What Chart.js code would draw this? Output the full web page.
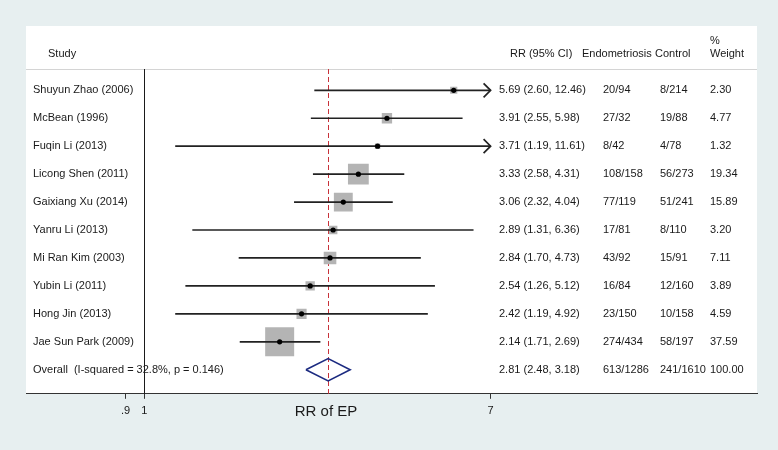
<!DOCTYPE html>
<html>
<head>
<meta charset="utf-8">
<title>RR of EP forest plot</title>
<script src="https://cdn.jsdelivr.net/npm/chart.js@4.4.1/dist/chart.umd.min.js"></script>
<style>
  html, body { margin: 0; padding: 0; background: #e7eff0; }
  #wrap { width: 778px; height: 450px; position: relative; }
</style>
</head>
<body>
<div id="wrap"><canvas id="forestChart" width="778" height="450"></canvas></div>
<script>
// Study rows (top to bottom)
const studies = [
  "Shuyun Zhao (2006)", "McBean (1996)", "Fuqin Li (2013)", "Licong Shen (2011)",
  "Gaixiang Xu (2014)", "Yanru Li (2013)", "Mi Ran Kim (2003)", "Yubin Li (2011)",
  "Hong Jin (2013)", "Jae Sun Park (2009)"
];
const rr = [5.69, 3.91, 3.71, 3.33, 3.06, 2.89, 2.84, 2.54, 2.42, 2.14];
const ciLow = [2.60, 2.55, 1.19, 2.58, 2.32, 1.31, 1.70, 1.26, 1.19, 1.71];
const ciHigh = [12.46, 5.98, 11.61, 4.31, 4.04, 6.36, 4.73, 5.12, 4.92, 2.69];
const endoCounts = ["20/94", "27/32", "8/42", "108/158", "77/119", "17/81", "43/92", "16/84", "23/150", "274/434"];
const controlCounts = ["8/214", "19/88", "4/78", "56/273", "51/241", "8/110", "15/91", "12/160", "10/158", "58/197"];
const weights = [2.30, 4.77, 1.32, 19.34, 15.89, 3.20, 7.11, 3.89, 4.59, 37.59];

// Pooled estimate
const overallLabel = "Overall  (I-squared = 32.8%, p = 0.146)";
const overallRR = 2.81;
const overallLow = 2.48;
const overallHigh = 3.18;
const overallEndo = "613/1286";
const overallControl = "241/1610";
const overallWeight = "100.00";

// x axis ticks
const tickValues = [0.9, 1, 7];
const tickLabels = [".9", "1", "7"];
const xTitle = "RR of EP";

const FONT = "'Liberation Sans', Arial, sans-serif";
const overallRow = studies.length;
const clipMax = tickValues[tickValues.length - 1];
const fmt = v => v.toFixed(2);

// CI segments, one dataset per study, cut at the last tick
const ciSets = studies.map((s, i) => ({
  type: 'line',
  data: [{ x: ciLow[i], y: i }, { x: Math.min(ciHigh[i], clipMax), y: i }],
  borderColor: '#222',
  borderWidth: 1.7,
  pointRadius: 0,
  fill: false,
  order: 2
}));

const forestPlugin = {
  id: 'forest',
  beforeDraw(chart) {
    // white plot panel, under the axis
    const { ctx, chartArea: a } = chart;
    ctx.save();
    ctx.fillStyle = '#ffffff';
    ctx.fillRect(a.left, a.top, a.right - a.left, a.bottom - a.top);
    ctx.restore();
  },
  beforeDatasetsDraw(chart) {
    const { ctx, chartArea: a, scales: { x } } = chart;
    const headY = a.top + 43;
    ctx.save();
    // header separator
    ctx.strokeStyle = '#d4d4d4';
    ctx.lineWidth = 1;
    ctx.beginPath();
    ctx.moveTo(a.left, headY + 0.5);
    ctx.lineTo(a.right, headY + 0.5);
    ctx.stroke();
    // no-effect line
    const x1 = Math.round(x.getPixelForValue(1)) + 0.5;
    ctx.strokeStyle = '#1a1a1a';
    ctx.beginPath();
    ctx.moveTo(x1, headY);
    ctx.lineTo(x1, a.bottom);
    ctx.stroke();
    // overall estimate line
    const xo = Math.round(x.getPixelForValue(overallRR)) + 0.5;
    ctx.strokeStyle = '#c8323a';
    ctx.setLineDash([5, 3]);
    ctx.beginPath();
    ctx.moveTo(xo, headY);
    ctx.lineTo(xo, a.bottom);
    ctx.stroke();
    ctx.restore();
  },
  afterDatasetsDraw(chart) {
    const { ctx, chartArea: a, scales: { x, y } } = chart;
    ctx.save();
    // arrows where the CI runs past the axis
    ctx.strokeStyle = '#222';
    ctx.lineWidth = 1.7;
    ciHigh.forEach((hi, i) => {
      if (hi <= clipMax) return;
      const px = x.getPixelForValue(clipMax);
      const py = y.getPixelForValue(i);
      ctx.beginPath();
      ctx.moveTo(px - 7, py - 7);
      ctx.lineTo(px, py);
      ctx.lineTo(px - 7, py + 7);
      ctx.stroke();
    });

    // header
    ctx.fillStyle = '#1a1a1a';
    ctx.font = '11px ' + FONT;
    ctx.textBaseline = 'middle';
    ctx.textAlign = 'left';
    const hy = a.top + 28;
    ctx.fillText("Study", 48, hy);
    ctx.fillText("RR (95% CI)", 510, hy);
    ctx.fillText("Endometriosis", 582, hy);
    ctx.fillText("Control", 655, hy);
    ctx.fillText("%", 710, hy - 13);
    ctx.fillText("Weight", 710, hy);

    // rows
    const colRR = 499, colEndo = 603, colCtrl = 660, colW = 710;
    studies.forEach((s, i) => {
      const py = y.getPixelForValue(i);
      ctx.fillText(s, 33, py);
      ctx.fillText(`${fmt(rr[i])} (${fmt(ciLow[i])}, ${fmt(ciHigh[i])})`, colRR, py);
      ctx.fillText(endoCounts[i], colEndo, py);
      ctx.fillText(controlCounts[i], colCtrl, py);
      ctx.fillText(fmt(weights[i]), colW, py);
    });
    const oy = y.getPixelForValue(overallRow);
    ctx.fillText(overallLabel, 33, oy);
    ctx.fillText(`${fmt(overallRR)} (${fmt(overallLow)}, ${fmt(overallHigh)})`, colRR, oy);
    ctx.fillText(overallEndo, colEndo, oy);
    ctx.fillText(overallControl, colCtrl, oy);
    ctx.fillText(overallWeight, colW, oy);

    // axis title
    ctx.font = '15px ' + FONT;
    ctx.textAlign = 'center';
    ctx.fillText(xTitle, 326, a.bottom + 18);
    ctx.restore();
  }
};

const ctx = document.getElementById("forestChart").getContext("2d");
new Chart(ctx, {
  type: 'scatter',
  plugins: [forestPlugin],
  data: {
    datasets: [
      {
        // study weight boxes
        data: rr.map((v, i) => ({ x: v, y: i })),
        pointStyle: 'rect',
        pointRadius: weights.map(w => 4.73 * Math.sqrt(w) / Math.SQRT2),
        pointHoverRadius: weights.map(w => 4.73 * Math.sqrt(w) / Math.SQRT2),
        backgroundColor: '#b4b4b4',
        borderWidth: 0,
        order: 3
      },
      ...ciSets,
      {
        // point estimates
        data: rr.map((v, i) => ({ x: v, y: i })),
        pointStyle: 'circle',
        pointRadius: 2.6,
        backgroundColor: '#000',
        borderWidth: 0,
        order: 1
      },
      {
        // pooled diamond
        type: 'line',
        data: [
          { x: overallLow, y: overallRow },
          { x: overallRR, y: overallRow - 0.4 },
          { x: overallHigh, y: overallRow },
          { x: overallRR, y: overallRow + 0.4 },
          { x: overallLow, y: overallRow }
        ],
        borderColor: '#1b2a80',
        borderWidth: 1.6,
        pointRadius: 0,
        fill: false,
        tension: 0,
        order: 1
      }
    ]
  },
  options: {
    responsive: false,
    animation: false,
    devicePixelRatio: 1,
    layout: { padding: { left: 26, right: 21, top: 26, bottom: 26 } },
    plugins: { legend: { display: false }, tooltip: { enabled: false } },
    scales: {
      x: {
        type: 'logarithmic',
        min: 0.5146,
        max: 31.27,
        afterBuildTicks: axis => { axis.ticks = tickValues.map(v => ({ value: v })); },
        ticks: {
          autoSkip: false,
          maxRotation: 0,
          padding: 6,
          color: '#1a1a1a',
          font: { family: FONT, size: 11 },
          callback: (v, i) => tickLabels[i]
        },
        grid: { drawOnChartArea: false, drawTicks: true, tickLength: 5, color: '#333' },
        border: { display: true, color: '#333', width: 1 }
      },
      y: {
        type: 'linear',
        reverse: true,
        min: -2.3,
        max: 10.86,
        display: false
      }
    }
  }
});
</script>
</body>
</html>
